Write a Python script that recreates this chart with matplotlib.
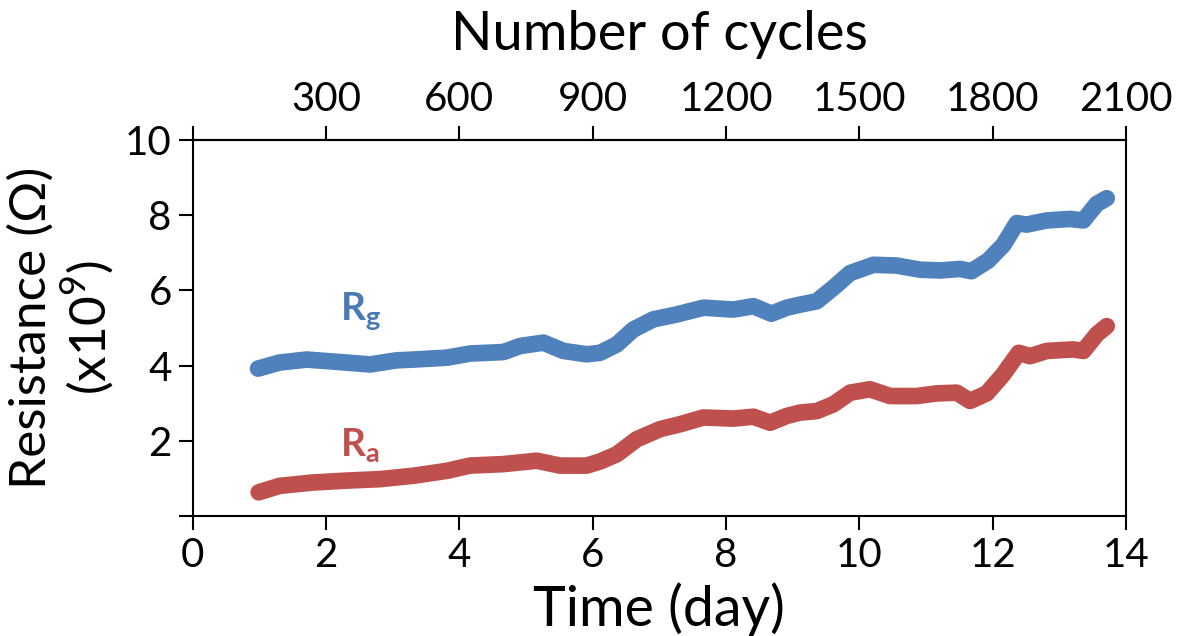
import numpy as np
import matplotlib
matplotlib.use('Agg')
import matplotlib.pyplot as plt

plt.rcParams['font.family'] = ['Lato', 'DejaVu Sans']
plt.rcParams['mathtext.fontset'] = 'custom'
plt.rcParams['mathtext.rm'] = 'Lato'
plt.rcParams['mathtext.bf'] = 'Lato:bold'

# R_g (blue)
day_g = [0.98, 1.3, 1.71, 2.31, 2.66, 3.06, 3.31, 3.81, 4.16, 4.66, 4.91, 5.26,
         5.56, 5.91, 6.11, 6.36, 6.61, 6.91, 7.26, 7.66, 8.11, 8.41, 8.68, 8.91,
         9.11, 9.36, 9.61, 9.86, 10.21, 10.56, 10.91, 11.21, 11.51, 11.68, 11.93,
         12.16, 12.36, 12.51, 12.81, 13.16, 13.36, 13.56, 13.71]
rg = [3.92, 4.08, 4.16, 4.08, 4.03, 4.14, 4.16, 4.21, 4.32, 4.36, 4.52, 4.61,
      4.39, 4.30, 4.34, 4.56, 4.96, 5.23, 5.36, 5.54, 5.49, 5.58, 5.38, 5.54,
      5.62, 5.71, 6.07, 6.46, 6.68, 6.66, 6.55, 6.53, 6.57, 6.51, 6.79,
      7.21, 7.79, 7.75, 7.86, 7.90, 7.86, 8.30, 8.45]

# R_a (red)
day_a = [0.99, 1.3, 1.8, 2.3, 2.81, 3.31, 3.81, 4.16, 4.66, 5.16, 5.51, 5.91,
         6.11, 6.36, 6.66, 7.01, 7.31, 7.66, 8.11, 8.41, 8.66, 8.91, 9.11, 9.36,
         9.61, 9.86, 10.16, 10.46, 10.86, 11.16, 11.46, 11.66, 11.91, 12.16,
         12.39, 12.56, 12.81, 13.21, 13.36, 13.56, 13.71]
ra = [0.63, 0.80, 0.89, 0.94, 0.98, 1.07, 1.20, 1.34, 1.38, 1.47, 1.34, 1.34,
      1.45, 1.64, 2.04, 2.31, 2.44, 2.62, 2.59, 2.64, 2.48, 2.66, 2.75, 2.79,
      2.97, 3.28, 3.37, 3.19, 3.19, 3.26, 3.28, 3.06, 3.26, 3.77,
      4.34, 4.25, 4.39, 4.43, 4.39, 4.83, 5.05]

x_ticks = [0, 2, 4, 6, 8, 10, 12, 14]
y_ticks = [0, 2, 4, 6, 8, 10]
y_ticklabels = ['', '2', '4', '6', '8', '10']
cycle_ticks = [0, 300, 600, 900, 1200, 1500, 1800, 2100]
cycle_ticklabels = [''] + [str(c) for c in cycle_ticks[1:]]
cycles_per_day = 150

fig = plt.figure(figsize=(11.8, 6.36), dpi=100)
ax = fig.add_axes([0.1633, 0.1887, 0.7910, 0.5912])

ax.plot(day_g, rg, color='#4f81bd', lw=12, solid_capstyle='round', solid_joinstyle='round')
ax.plot(day_a, ra, color='#c0504d', lw=12, solid_capstyle='round', solid_joinstyle='round')

ax.text(2.21, 5.19, r'$\mathbf{R}_\mathbf{g}$', color='#4a7ab5', fontsize=28,
        ha='left', va='baseline')
ax.text(2.21, 1.57, r'$\mathbf{R}_\mathbf{a}$', color='#c0504d', fontsize=28,
        ha='left', va='baseline')

ax.set_xlim(0, 14)
ax.set_ylim(0, 10)
ax.set_xticks(x_ticks)
ax.set_yticks(y_ticks)
ax.set_yticklabels(y_ticklabels)
ax.tick_params(direction='out', length=10, width=1.5, labelsize=29, pad=5)
for s in ax.spines.values():
    s.set_linewidth(1.5)

ax.set_xlabel('Time (day)', fontsize=40, labelpad=6)
ax.set_ylabel('Resistance (\u03a9)\n(x10$^9$)', fontsize=37, labelpad=6,
              linespacing=1.1)

top = ax.secondary_xaxis('top', functions=(lambda d: d * cycles_per_day,
                                           lambda c: c / cycles_per_day))
top.set_xticks(cycle_ticks)
top.set_xticklabels(cycle_ticklabels)
top.tick_params(direction='out', length=10, width=1.5, labelsize=29, pad=6)
top.spines['top'].set_linewidth(1.5)
top.set_xlabel('Number of cycles', fontsize=39, labelpad=22)

fig.savefig('out.png', dpi=100)
